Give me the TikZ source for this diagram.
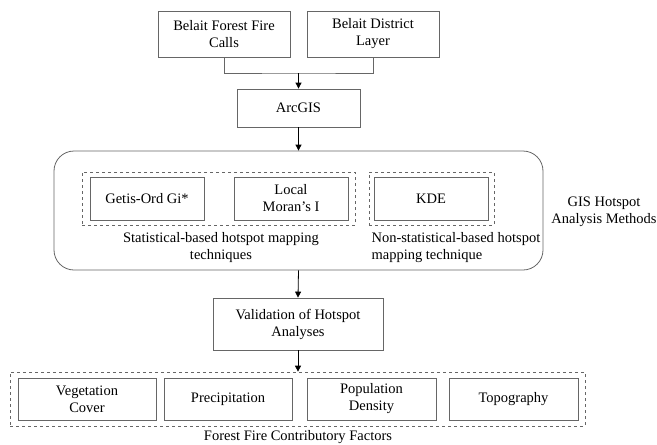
\documentclass[tikz,border=0pt]{standalone}
\usepackage{fontspec}
\setmainfont{Liberation Serif}
\usetikzlibrary{arrows.meta, positioning}

\begin{document}
\begin{tikzpicture}[
    x=1pt, y=-1pt,
    every node/.style={font=\fontsize{14.5}{17}\selectfont},
    box/.style={rectangle, draw=black!60, line width=0.8pt, align=center, inner sep=0pt},
    group/.style={rectangle, draw=black!60, dashed, line width=0.7pt, inner sep=0pt},
    link/.style={draw=black!60, line width=0.8pt},
    arrow/.style={-{Triangle[length=6pt, width=6pt]}, line width=0.8pt}
]
    \useasboundingbox (0,0) rectangle (657,445);

    % Input layers
    \node[box, minimum width=132pt, minimum height=46pt] (calls) at (224,34) {Belait Forest Fire\\Calls};
    \node[box, minimum width=132pt, minimum height=46pt] (district) at (373,34) {Belait District\\Layer};
    \coordinate (join) at (298.5,73);

    \node[box, minimum width=123pt, minimum height=38pt] (arcgis) at (298.5,108) {ArcGIS};

    % GIS hotspot analysis methods
    \node[box, rounded corners=20pt, minimum width=489pt, minimum height=119pt] (methods) at (298.5,210.5) {};
    \node[group, minimum width=273pt, minimum height=53pt] (stat) at (218.5,198.5) {};
    \node[group, minimum width=125pt, minimum height=53pt] (nonstat) at (431.5,198.5) {};

    \node[box, minimum width=114pt, minimum height=43pt] (getis) at (147,198.5) {Getis-Ord Gi*};
    \node[box, minimum width=114pt, minimum height=43pt] (moran) at (291,198.5) {Local\\Moran’s I};
    \node[box, minimum width=114pt, minimum height=43pt] (kde) at (431,198.5) {KDE};

    \node[align=center] (statlbl) at (221,248) {Statistical-based hotspot mapping\\techniques};
    \node[align=left, anchor=west] (nonstatlbl) at (368,248) {Non-statistical-based hotspot\\mapping technique};
    \node[align=center] (methodslbl) at (604,212) {GIS Hotspot\\Analysis Methods};

    \node[box, minimum width=170pt, minimum height=52pt] (valid) at (298,324) {Validation of Hotspot\\Analyses};

    % Contributory factors
    \node[group, minimum width=575pt, minimum height=54pt] (factors) at (297.5,399) {};
    \node[box, minimum width=138pt, minimum height=42pt] (veg) at (87,399) {Vegetation\\Cover};
    \node[box, minimum width=128pt, minimum height=42pt] (precip) at (228,399) {Precipitation};
    \node[box, minimum width=129pt, minimum height=42pt] (pop) at (371.5,399) {Population\\Density};
    \node[box, minimum width=129pt, minimum height=42pt] (topo) at (513.5,399) {Topography};
    \node (factorslbl) at (298,437) {Forest Fire Contributory Factors};

    % Connectors
    \draw[link] (calls.south) |- (join) -| (district.south);
    \draw[arrow] (join) -- (arcgis.north);
    \draw[arrow] (arcgis.south) -- (methods.north);
    \draw[arrow] (methods.south) -- (valid.north);
    \draw[arrow] (valid.south) -- (valid.south |- factors.north);

\end{tikzpicture}
\end{document}
